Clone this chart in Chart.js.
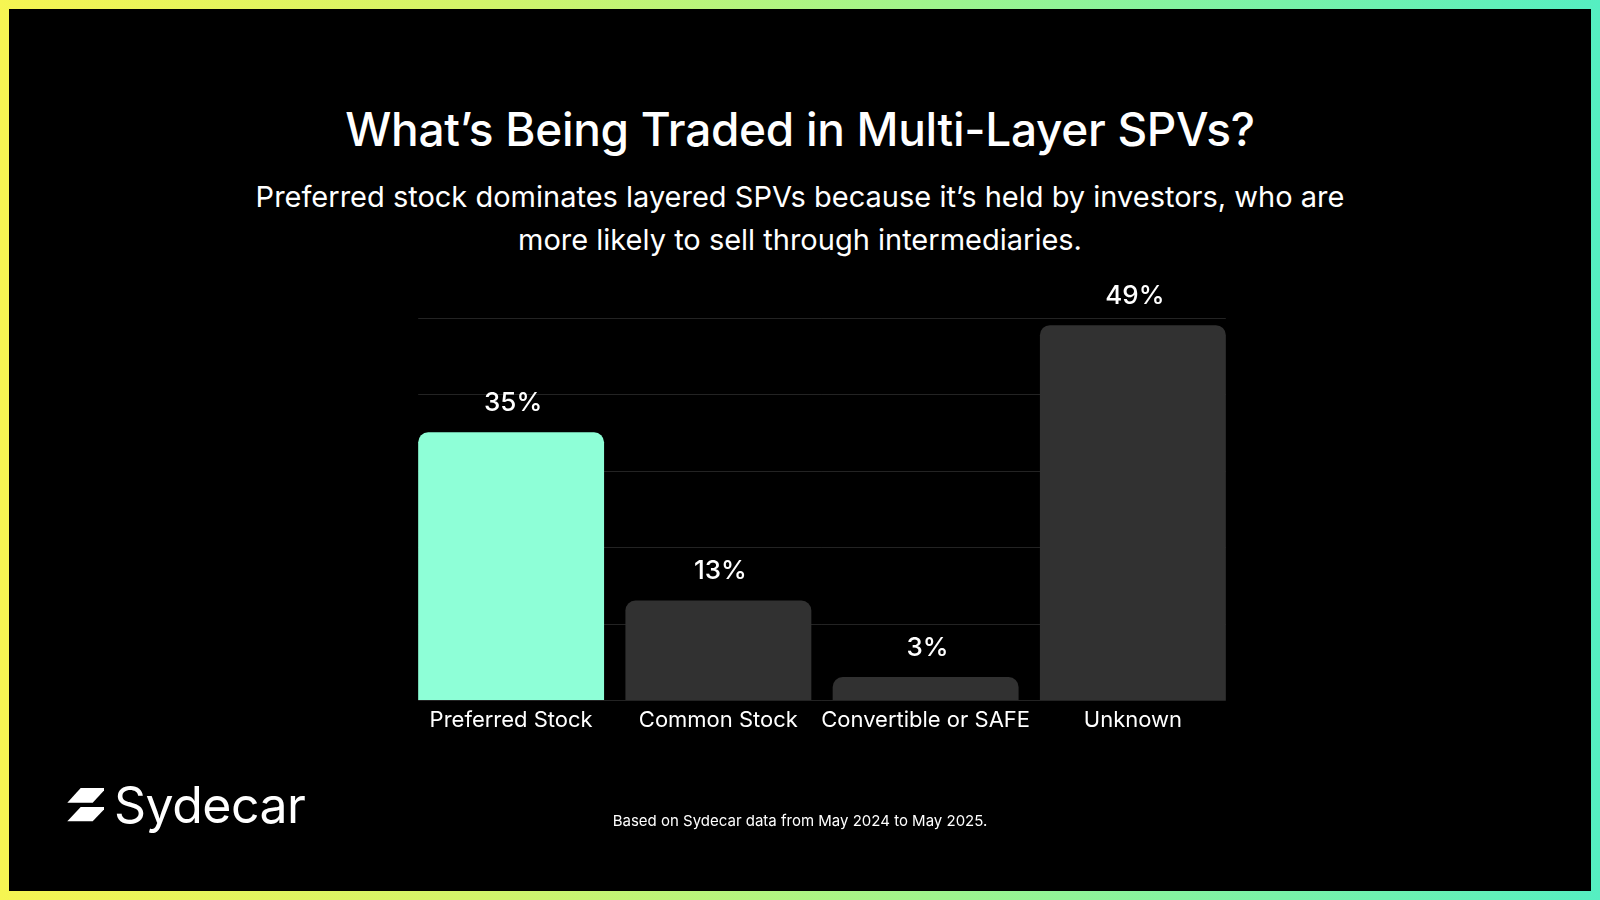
<!DOCTYPE html>
<html>
<head>
<meta charset="utf-8">
<script src="https://cdn.jsdelivr.net/npm/chart.js@4"></script>
<style>
  html, body { margin: 0; padding: 0; background: #000; }
  #frame {
    position: relative; width: 1600px; height: 900px;
    background: linear-gradient(90deg, #f6f552 0%, #d2f46a 30%, #9cf58f 60%, #55efc2 100%);
    font-family: Inter, "Noto Sans", sans-serif; color: #fff;
  }
  #inner { position: absolute; left: 9px; top: 9px; right: 9px; bottom: 9px; background: #000; }
  #wrap { position: absolute; left: 0; top: 0; width: 1600px; height: 900px; }
  .txt { position: absolute; left: 0; width: 1600px; text-align: center; white-space: nowrap; }
  #title { top: 100px; font-size: 46px; font-weight: 500; line-height: 58px; letter-spacing: -0.3px; }
  #sub { top: 175px; font-size: 29px; font-weight: 400; line-height: 43px; }
  #note { top: 811px; font-size: 15px; line-height: 20px; }
  #logo { position: absolute; left: 66px; top: 778px; height: 56px; }
  #logo span { position: absolute; left: 48px; top: -1px; font-size: 50px; font-weight: 400; line-height: 56px; letter-spacing: -0.5px; }
</style>
</head>
<body>
<div id="frame">
  <div id="inner"></div>
  <div class="txt" id="title">What’s Being Traded in Multi-Layer SPVs?</div>
  <div class="txt" id="sub">Preferred stock dominates layered SPVs because it’s held by investors, who are<br>more likely to sell through intermediaries.</div>
  <div id="wrap"><canvas id="myChart" width="1600" height="900"></canvas></div>
  <div id="logo">
    <svg width="44" height="40" viewBox="66 782 44 40" style="position:absolute;left:0;top:4px">
      <polygon points="80.7,788 104,788 104,790.5 92.7,802.7 67.3,802.7" fill="#fff"/>
      <polygon points="80.7,807 104,807 104,809.5 92.7,821.3 67.3,821.3" fill="#fff"/>
    </svg>
    <span>Sydecar</span>
  </div>
  <div class="txt" id="note">Based on Sydecar data from May 2024 to May 2025.</div>
</div>
<script>
const categories = ['Preferred Stock', 'Common Stock', 'Convertible or SAFE', 'Unknown'];
const shares = [35, 13, 3, 49];
const barColors = ['#8effd7', '#313131', '#313131', '#313131'];
const yTicks = [0, 10, 20, 30, 40, 50];

const ctx = document.getElementById('myChart');

// gridlines only span the bars, not the full chart area
const gridPlugin = {
    id: 'barGrid',
    beforeDatasetsDraw(chart) {
        const bars = chart.getDatasetMeta(0).data;
        const first = bars[0], last = bars[bars.length - 1];
        const x0 = first.x - first.width / 2;
        const x1 = last.x + last.width / 2;
        const y = chart.scales.y;
        const c = chart.ctx;
        c.save();
        c.strokeStyle = '#232323';
        c.lineWidth = 1;
        yTicks.forEach(v => {
            const py = Math.round(y.getPixelForValue(v)) + 0.5;
            c.beginPath();
            c.moveTo(x0, py);
            c.lineTo(x1, py);
            c.stroke();
        });
        c.restore();
    }
};

const valueLabels = {
    id: 'valueLabels',
    afterDatasetsDraw(chart) {
        const c = chart.ctx;
        c.save();
        c.fillStyle = '#ffffff';
        c.font = '500 26px Inter, "Noto Sans", sans-serif';
        c.textAlign = 'center';
        c.textBaseline = 'middle';
        chart.getDatasetMeta(0).data.forEach((bar, i) => {
            c.fillText(shares[i] + '%', bar.x + 2, bar.y - 29);
        });
        c.restore();
    }
};

new Chart(ctx, {
    type: 'bar',
    data: {
        labels: categories,
        datasets: [{
            data: shares,
            backgroundColor: barColors,
            borderRadius: { topLeft: 10, topRight: 10 },
            borderSkipped: 'start',
            categoryPercentage: 1,
            barPercentage: 0.897
        }]
    },
    options: {
        responsive: false,
        animation: false,
        layout: {
            padding: { left: 407.5, right: 363.5, top: 317.5, bottom: 159.6 }
        },
        plugins: {
            legend: { display: false },
            tooltip: { enabled: false }
        },
        scales: {
            x: {
                grid: { display: false, drawTicks: false },
                border: { display: false },
                ticks: {
                    color: '#ffffff',
                    padding: 7,
                    autoSkip: false,
                    maxRotation: 0,
                    minRotation: 0,
                    font: { family: 'Inter, "Noto Sans", sans-serif', size: 22 }
                }
            },
            y: {
                display: false,
                min: 0,
                max: 50,
                ticks: { stepSize: 10 }
            }
        }
    },
    plugins: [gridPlugin, valueLabels]
});
</script>
</body>
</html>
